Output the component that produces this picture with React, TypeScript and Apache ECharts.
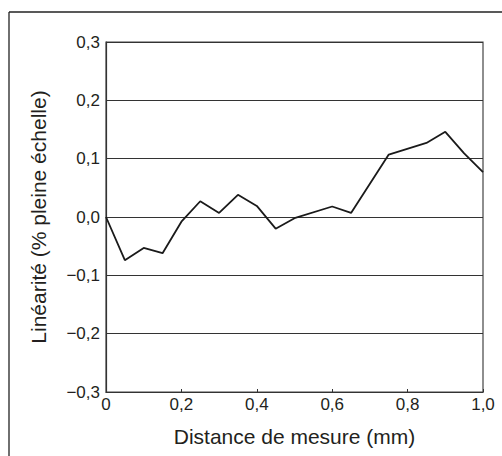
import React, { useEffect, useRef } from "react";
import * as echarts from "echarts";

const xValues = [0, 0.05, 0.1, 0.15, 0.2, 0.25, 0.3, 0.35, 0.4, 0.45, 0.5, 0.6, 0.65, 0.75, 0.85, 0.9, 0.95, 1.0];
const yValues = [0.0, -0.074, -0.053, -0.062, -0.008, 0.027, 0.007, 0.038, 0.019, -0.02, -0.002, 0.018, 0.007, 0.107, 0.127, 0.146, 0.109, 0.077];
const xTitle = "Distance de mesure (mm)";
const yTitle = "Linéarité (% pleine échelle)";

const FONT = "'Liberation Sans', Arial, Helvetica, sans-serif";
const TXT = "#231f20";

const fmt = (v: number, digits: number) => {
  const s = v.toFixed(digits);
  return s.replace(".", ",").replace("-", "\u2212");
};

export default function App() {
  const ref = useRef<HTMLDivElement>(null);
  useEffect(() => {
    if (!ref.current) return;
    const chart = echarts.init(ref.current, undefined, { renderer: "svg" });
    chart.setOption({
      animation: false,
      backgroundColor: "#ffffff",
      grid: {
        left: 106,
        top: 42,
        right: 19,
        bottom: 64,
        show: true,
        borderColor: "#444",
        borderWidth: 1.2,
      },
      graphic: [
        { type: "line", shape: { x1: 9, y1: 12, x2: 502, y2: 12 }, style: { stroke: "#222", lineWidth: 1.3 } },
        { type: "line", shape: { x1: 9, y1: 12, x2: 9, y2: 456 }, style: { stroke: "#222", lineWidth: 1.3 } },
      ],
      xAxis: {
        type: "value",
        min: 0,
        max: 1,
        interval: 0.2,
        name: xTitle,
        nameLocation: "middle",
        nameGap: 34,
        nameTextStyle: { fontFamily: FONT, fontSize: 21, color: TXT },
        axisLine: { show: true, onZero: false, lineStyle: { color: "#333", width: 1.2 } },
        axisTick: { show: true, inside: true, length: 3, lineStyle: { color: "#333" } },
        splitLine: { show: false },
        axisLabel: {
          fontFamily: FONT,
          fontSize: 17,
          color: TXT,
          margin: 4,
          formatter: (v: number) => (Math.abs(v) < 1e-9 ? "0" : fmt(v, 1)),
        },
      },
      yAxis: {
        type: "value",
        min: -0.3,
        max: 0.3,
        interval: 0.1,
        name: yTitle,
        nameLocation: "middle",
        nameGap: 57,
        nameTextStyle: { fontFamily: FONT, fontSize: 21, color: TXT },
        axisLine: { show: true, onZero: false, lineStyle: { color: "#333", width: 1.2 } },
        axisTick: { show: false },
        splitLine: { show: true, lineStyle: { color: "#333", width: 1 } },
        axisLabel: {
          fontFamily: FONT,
          fontSize: 17,
          color: TXT,
          margin: 6,
          formatter: (v: number) => fmt(Math.round(v * 10) / 10, 1),
        },
      },
      series: [
        {
          type: "line",
          data: xValues.map((x, i) => [x, yValues[i]]),
          showSymbol: false,
          lineStyle: { color: "#1a1a1a", width: 1.8 },
          itemStyle: { color: "#1a1a1a" },
        },
      ],
    });
    return () => chart.dispose();
  }, []);
  return <div ref={ref} style={{ width: 502, height: 456, position: "absolute", left: 0, top: 0 }} />;
}
